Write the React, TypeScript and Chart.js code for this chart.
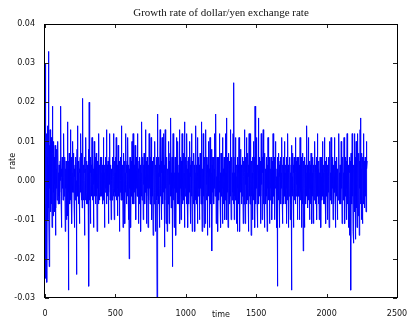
import { useEffect, useRef } from "react";
import { Chart, registerables } from "chart.js";

Chart.register(...registerables);

// Chart text
const chartTitle = "Growth rate of dollar/yen exchange rate";
const xLabel = "time";
const yLabel = "rate";

// Tick values
const xTicks = [0, 500, 1000, 1500, 2000, 2500];
const yTicks = [-0.03, -0.02, -0.01, 0, 0.01, 0.02, 0.03, 0.04];

// one value every TIME_STEP time units, in units of 0.001
const TIME_STEP = 2;
const rateMilli: number[] = [
  // t 0-98
  -6, 30, -25, 8, -3, 12, -9, -26, 6, 14, -10, 4, -7, 33, -5, -22, 9, -2, 13, -8, 3, -5, 11, -6, 1, -12, 19, -4, 7, -9, 10, -3, 2, -8, 6, -1, 9, -14, 4, -7, 3, -2, 8, -5, 5, -3, 10, -6, 2, -4,
  // t 100-198
  4, -6, 2, -3, 5, 0, 19, -4, 3, -12, 1, 6, -2, 3, -5, 4, -1, 12, -4, 2, -3, 6, -13, 3, -2, 5, -10, 1, 4, -5, 15, -9, 3, -28, 5, -3, 7, -1, -6, 3, 13, -5, 1, -4, 6, -11, 2, 5, -3, 10,
  // t 200-298
  -3, 2, 7, -5, 3, -12, 1, 4, -2, 6, -5, 0, -24, 4, 8, -3, 14, -4, 2, -6, 5, -1, 3, -11, 2, 6, -3, 12, -2, -5, 3, 7, -7, 1, 21, -4, 2, -5, 4, 0, 6, -14, 2, 3, -5, 11, -3, 1, -6, 5,
  // t 300-398
  -2, 4, -6, 2, -3, 8, -27, 20, -5, 3, -1, 6, -11, 2, 4, -4, 1, 11, -3, -5, 5, 2, -12, 3, -1, 10, -4, 0, 6, -6, 2, -2, 7, -4, 3, -13, 1, 5, -2, 4, -6, 12, -3, 2, -5, 4, 0, 6, -4, 2,
  // t 400-498
  -4, 1, 6, -3, 4, -6, 2, -1, 11, -5, 2, -12, 4, 0, -3, 6, -2, 3, -6, 13, -2, 4, -4, 1, 5, -11, 2, -3, 6, -1, 12, -5, 2, -4, 4, -10, 3, 0, -5, 6, -2, 4, -2, 12, -4, 1, -10, 5, -3, 2,
  // t 500-598
  -2, 6, -4, 11, -5, 1, 3, -9, 4, -2, 9, -1, -4, 3, 2, -13, 5, -3, 6, 0, -5, 2, 14, -4, 1, -5, 4, -12, 3, -2, 7, -4, 0, 5, -11, 2, -3, 12, -1, 4, -6, 2, 5, -4, 11, -2, 1, -10, 4, -20,
  // t 600-698
  3, -2, 6, -4, 1, -12, 5, 2, -4, 10, -6, 2, -2, 12, -1, 4, -6, 4, -3, 0, 9, -5, 2, -10, 6, -2, 4, -4, 1, 12, -4, 3, -11, 2, 5, -2, -6, 6, -1, 4, -13, 2, 0, -4, 15, -5, 2, -3, 6, -10,
  // t 700-798
  4, -1, 7, -4, 2, -6, 1, 13, -3, 5, -11, 2, -4, 6, -2, 3, -12, 4, 0, -5, 12, -2, 4, -6, 2, 6, -4, 11, -1, -10, 3, 5, -4, 1, -14, 6, -2, 4, -6, 0, 10, -3, 2, -13, 4, -2, 6, -5, -31, 3,
  // t 800-898
  17, -4, 2, -6, 6, -2, 4, -12, 1, 13, -4, 3, -2, 5, -10, 2, 11, -4, 0, -6, 6, -3, 12, -1, -17, 4, -5, 13, -2, 2, -11, 4, -4, 6, -13, 1, 3, -6, 10, -2, 4, -11, 5, -1, 7, -4, 2, 16, -7, 2,
  // t 900-998
  -4, 6, -22, 3, -2, 12, -5, 1, 4, -12, 2, -2, 6, -4, 4, -14, 2, 11, -3, 5, -6, 0, 10, -4, 2, -6, 4, -1, 13, -11, 3, -2, 6, -10, 1, 5, -4, 12, -2, -6, 4, -3, 7, -5, 2, 15, -12, 2, -4, 6,
  // t 1000-1098
  -2, 4, -6, 2, 12, -4, 3, -12, 5, -1, 6, -6, 2, -3, 10, -2, 4, -11, 1, 6, -4, 12, -2, -13, 3, 5, -4, 2, -6, 7, -1, 4, -13, 2, 0, -5, 14, -3, 4, -6, 2, 11, -11, 1, -4, 6, -2, 4, -10, 3,
  // t 1100-1198
  -4, 7, -2, 4, -6, 15, -1, 5, -13, 2, 3, -6, 12, -4, 1, -12, 6, -2, 4, -11, 2, 13, -3, -5, 6, -1, 4, -14, 2, 6, -4, 10, -2, 3, -12, 1, 11, -4, 5, -6, 2, -2, 8, -18, 4, -3, 6, -5, 2, 6,
  // t 1200-1298
  -6, 3, -2, 12, -4, 2, 5, 17, -11, 1, -4, 6, -2, 4, -13, 2, 6, -5, 0, 12, -3, 4, -6, 2, -12, 7, -1, 5, -4, 2, -11, 11, -2, 3, -6, 1, 6, -4, 4, -10, 2, 12, -5, 2, -2, 16, -10, 4, -3, 6,
  // t 1300-1398
  -12, 2, -4, 7, -2, 5, -6, 1, 13, -4, 3, -10, 4, -1, 6, -5, 2, -3, 12, -6, 4, 25, -10, 2, -4, 6, -2, 11, -5, 1, -11, 4, 3, -13, 6, -2, 4, -6, 2, 11, -4, 0, -13, 5, -3, 8, -1, 4, -6, 2,
  // t 1400-1498
  -4, 6, -2, 3, -11, 5, 1, -6, 13, -4, 2, -11, 6, -1, 4, -6, 11, -3, 2, -5, 7, -2, 4, -13, 1, 12, -4, 2, -6, 4, -2, 12, -14, 3, 5, -4, 2, -10, 6, -1, 10, -5, 2, -3, 6, -12, 19, -4, 2, -6,
  // t 1500-1598
  4, -2, 11, -5, 2, -12, 4, 1, 16, -6, 3, -4, 6, -2, 5, -11, 2, -4, 12, -1, 4, -10, 6, -3, 2, 13, -6, 1, -4, 5, -12, 7, -2, 3, -6, 2, 6, -4, 0, -13, 4, -2, 11, -5, 2, -4, 6, -11, 2, 4,
  // t 1600-1698
  -5, 3, -2, 6, -4, 1, -10, 5, 2, -6, 12, -3, 2, -4, 6, -10, 4, -1, 10, -2, 4, -6, 1, -12, 3, -27, 6, -4, 2, -5, 7, -2, 4, -12, 1, 5, -3, 6, -6, 2, -2, 11, -4, 3, -11, 4, -1, 6, -6, 2,
  // t 1700-1798
  -3, 10, -4, 2, -6, 4, 1, -11, 6, -2, 3, -5, 12, -2, 4, -12, 2, -4, 6, -1, 5, -10, 2, -6, 4, -28, 9, -3, 1, -4, 7, -2, 4, -12, 2, 6, -5, 3, -2, 11, -6, 2, -4, 5, -1, 6, -10, 3, -4, 2,
  // t 1800-1898
  6, -4, 2, -10, 4, -2, 11, -5, 1, -3, 6, -12, 4, -2, 2, -6, 7, -18, 3, 5, -4, 1, -12, 6, -2, 4, -6, 2, 6, -4, 14, -1, 4, -7, 2, -5, 11, -3, 2, -10, 5, -2, 4, -6, 1, 7, -4, 3, -11, 2,
  // t 1900-1998
  -4, 6, -2, 4, -11, 2, -5, 1, 10, -3, 4, -6, 2, -2, 6, -10, 4, -1, 12, -4, 3, -6, 2, 5, -10, 2, -4, 6, -2, 4, -12, 1, 6, -5, 3, -2, 10, -4, 2, -6, 4, -1, 11, -6, 2, -3, 5, -11, 4, -2,
  // t 2000-2098
  6, -4, 2, -10, 4, -2, 6, -3, 1, -12, 5, -2, 10, -5, 2, -4, 11, -1, 3, -6, 4, -2, 6, -10, 2, 4, -6, 1, 11, -3, 2, -12, 5, -2, 4, -4, 6, -2, 1, -10, 3, -5, 6, -2, 12, -4, 2, -6, 4, -1,
  // t 2100-2198
  3, -6, 10, -2, 2, -11, 4, -4, 6, -1, 2, -5, 11, -3, 4, -11, 2, 6, -4, 1, -10, 5, -2, 12, -6, 3, -2, 4, -12, 2, -4, 6, -14, 2, 5, -10, -28, 7, -3, 2, -6, 12, -4, 1, -13, 4, -16, 3, -6, 12,
  // t 2200-2288
  -8, 4, -15, 6, -4, 10, -7, 2, -12, 6, -4, 12, -9, 2, -6, 7, -14, 5, -2, 13, -6, 16, -5, 3, -10, 7, -4, 6, -11, 4, -2, 12, -6, 2, -7, 5, -3, 6, -4, 2, -8, 10, -2, 3, 5,
];

const frameTicksTitle = {
  id: "frameTicksTitle",
  afterDraw(chart: any) {
    const { ctx, chartArea, scales } = chart;
    const { left, right, top, bottom } = chartArea;
    ctx.save();
    ctx.strokeStyle = "#222";
    ctx.lineWidth = 1;
    ctx.beginPath();
    const tl = 4;
    for (const v of xTicks) {
      const px = Math.round(scales.x.getPixelForValue(v)) + 0.5;
      ctx.moveTo(px, bottom);
      ctx.lineTo(px, bottom - tl);
      ctx.moveTo(px, top);
      ctx.lineTo(px, top + tl);
    }
    for (const v of yTicks) {
      const py = Math.round(scales.y.getPixelForValue(v)) + 0.5;
      ctx.moveTo(left, py);
      ctx.lineTo(left + tl, py);
      ctx.moveTo(right, py);
      ctx.lineTo(right - tl, py);
    }
    ctx.stroke();
    ctx.strokeStyle = "#000";
    ctx.strokeRect(Math.round(left) - 0.5, Math.round(top) + 0.5, Math.round(right - left) + 1, Math.round(bottom - top) - 1);
    // title, centred over the plot area
    ctx.fillStyle = "#111";
    ctx.font = "11px 'Liberation Serif'";
    ctx.textAlign = "center";
    ctx.textBaseline = "middle";
    ctx.fillText(chartTitle, (left + right) / 2, 13.5);
    ctx.restore();
  },
};

export default function App() {
  const ref = useRef<HTMLCanvasElement | null>(null);

  useEffect(() => {
    if (!ref.current) return;
    const points = rateMilli.map((v, i) => ({ x: i * TIME_STEP, y: v / 1000 }));
    const tickFont = { family: "DejaVu Sans", size: 8 };
    const chart = new Chart(ref.current, {
      type: "line",
      data: {
        datasets: [
          {
            data: points,
            borderColor: "rgb(0,0,255)",
            borderWidth: 1,
            pointRadius: 0,
            tension: 0,
            fill: false,
          },
        ],
      },
      options: {
        responsive: false,
        animation: false,
        events: [],
        layout: { padding: { left: 0, right: 15, top: 24, bottom: 0 } },
        plugins: {
          legend: { display: false },
          tooltip: { enabled: false },
          title: { display: false },
        },
        scales: {
          x: {
            type: "linear",
            min: 0,
            max: 2500,
            afterBuildTicks: (s: any) => {
              s.ticks = xTicks.map((value) => ({ value }));
            },
            afterFit: (s: any) => {
              s.height = 22;
            },
            grid: { display: false },
            border: { display: false },
            ticks: {
              color: "#111",
              font: tickFont,
              padding: 3,
              maxRotation: 0,
              autoSkip: false,
              callback: (v: any) => String(v),
            },
            title: {
              display: true,
              text: xLabel,
              color: "#111",
              font: tickFont,
              padding: { top: 0, bottom: 0 },
            },
          },
          y: {
            type: "linear",
            min: -0.03,
            max: 0.04,
            afterBuildTicks: (s: any) => {
              s.ticks = yTicks.map((value) => ({ value }));
            },
            afterFit: (s: any) => {
              s.width = 45;
            },
            grid: { display: false },
            border: { display: false },
            ticks: {
              color: "#111",
              font: tickFont,
              padding: 2,
              autoSkip: false,
              callback: (v: any) => Number(v).toFixed(2),
            },
            title: {
              display: true,
              text: yLabel,
              color: "#111",
              font: tickFont,
              padding: { top: 8, bottom: 0 },
            },
          },
        },
      },
      plugins: [frameTicksTitle],
    } as any);
    return () => chart.destroy();
  }, []);

  return (
    <div style={{ position: "fixed", left: 0, top: 0, width: 412, height: 320, background: "#fff" }}>
      <canvas ref={ref} width={412} height={320} style={{ display: "block", width: 412, height: 320 }} />
    </div>
  );
}
